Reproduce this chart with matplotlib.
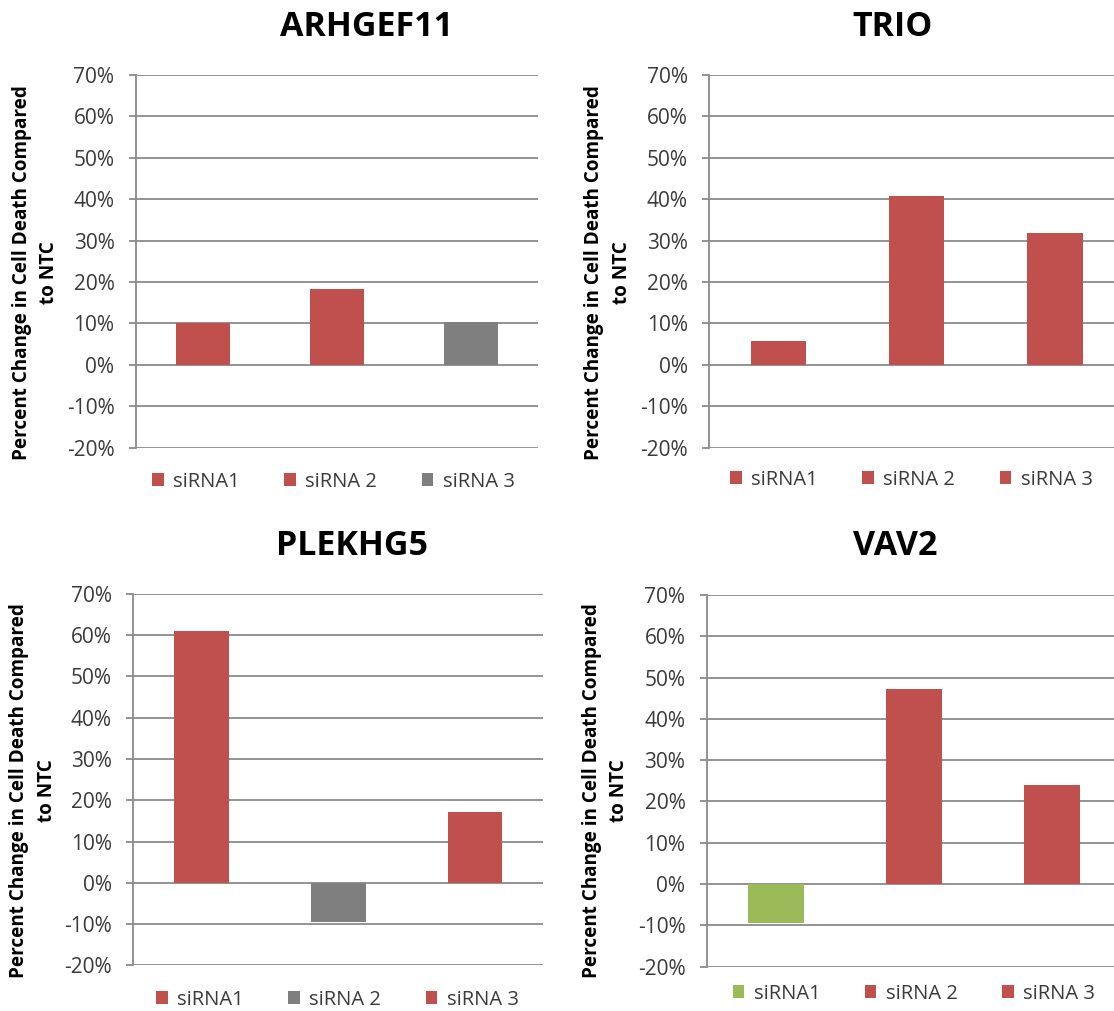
import matplotlib

matplotlib.use("Agg")
import matplotlib.pyplot as plt  # noqa: E402
from matplotlib.patches import Patch  # noqa: E402
from matplotlib.ticker import PercentFormatter  # noqa: E402

RED = "#C0504D"
GREY = "#7F7F7F"
GREEN = "#9BBB59"
AXIS_GREY = "#8A8A8A"

sirna_labels = ["siRNA1", "siRNA 2", "siRNA 3"]

arhgef11 = [0.100, 0.182, 0.104]
trio = [0.057, 0.407, 0.319]
plekhg5 = [0.610, -0.094, 0.171]
vav2 = [-0.094, 0.473, 0.239]

arhgef11_colors = [RED, RED, GREY]
trio_colors = [RED, RED, RED]
plekhg5_colors = [RED, GREY, RED]
vav2_colors = [GREEN, RED, RED]

y_ticks = [-0.2, -0.1, 0.0, 0.1, 0.2, 0.3, 0.4, 0.5, 0.6, 0.7]
y_label = "Percent Change in Cell Death Compared\nto NTC"

plt.rcParams["font.family"] = ["Open Sans", "DejaVu Sans"]
plt.rcParams["axes.unicode_minus"] = False

# (title, values, colours, axes rect, title xy, ylabel xy, legend anchor)
panels = [
    ("ARHGEF11", arhgef11, arhgef11_colors, [0.1221, 0.5572, 0.3609, 0.3686],
     (0.3294, 0.9644), (0.032, 0.7305), (0.491, -0.091)),
    ("TRIO", trio, trio_colors, [0.6367, 0.5572, 0.3725, 0.3686],
     (0.8016, 0.9644), (0.546, 0.7305), (0.487, -0.086)),
    ("PLEKHG5", plekhg5, plekhg5_colors, [0.1196, 0.0452, 0.3680, 0.3673],
     (0.3158, 0.4510), (0.0296, 0.2178), (0.498, -0.093)),
    ("VAV2", vav2, vav2_colors, [0.6346, 0.0438, 0.3716, 0.3677],
     (0.8040, 0.4510), (0.5435, 0.2178), (0.500, -0.073)),
]

fig = plt.figure(figsize=(11.14, 10.11), dpi=100)

for title, values, colors, rect, title_xy, ylab_xy, leg_xy in panels:
    ax = fig.add_axes(rect)
    x = range(len(values))
    ax.bar(x, values, width=0.4, color=colors, zorder=3)

    ax.set_xlim(-0.5, len(values) - 0.5)
    ax.set_ylim(-0.2, 0.7)
    ax.set_yticks(y_ticks)
    ax.yaxis.set_major_formatter(PercentFormatter(1.0, decimals=0))
    ax.tick_params(axis="y", labelsize=15, colors=AXIS_GREY, labelcolor="#3A3A3A",
                   length=5, width=1.3, pad=10.5)
    ax.tick_params(axis="x", bottom=False, labelbottom=False)

    ax.grid(axis="y", color=AXIS_GREY, linewidth=1.3, zorder=0)
    for side in ["top", "right", "bottom"]:
        ax.spines[side].set_visible(False)
    ax.spines["left"].set_color(AXIS_GREY)
    ax.spines["left"].set_linewidth(1.3)

    handles = [Patch(facecolor=c, edgecolor="none") for c in colors]
    ax.legend(handles, sirna_labels, loc="center", bbox_to_anchor=leg_xy, ncol=3,
              frameon=False, fontsize=14.5, handlelength=0.58, handleheight=0.58,
              handletextpad=0.47, columnspacing=2.2, labelcolor="#3A3A3A")

    fig.text(title_xy[0], title_xy[1], title, ha="center", va="baseline",
             fontsize=24.5, fontweight="bold", color="black")
    fig.text(ylab_xy[0], ylab_xy[1], y_label, ha="center", va="center",
             rotation=90, fontsize=13.6, fontweight="bold", multialignment="center",
             linespacing=1.5)

fig.savefig("out.png", dpi=100)
plt.close(fig)
